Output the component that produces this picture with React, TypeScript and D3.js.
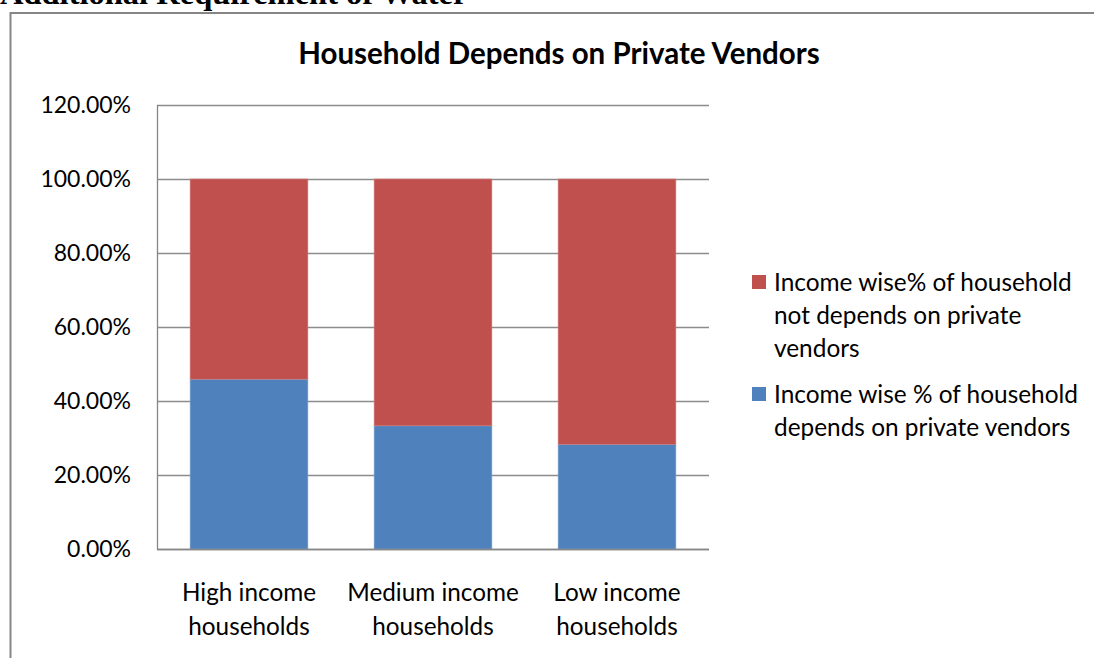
import React from "react";
import * as d3 from "d3";

const categories: string[][] = [
  ["High income", "households"],
  ["Medium income", "households"],
  ["Low income", "households"],
];
const dependsValues = [0.459, 0.333, 0.283];
const notDependsValues = [0.541, 0.667, 0.717];
const yTicks = [0, 0.2, 0.4, 0.6, 0.8, 1.0, 1.2];
const seriesNames = [
  ["Income wise% of household", "not depends on private", "vendors"],
  ["Income wise % of household", "depends on private vendors"],
];
const colors = ["#C0504D", "#4F81BD"];

const FONT = "Lato, 'Open Sans', sans-serif";

export default function App() {
  const W = 1094, H = 658;
  const left = 157, right = 709, top = 105, bottom = 549;
  const x = d3.scaleBand<number>().domain([0, 1, 2]).range([left, right]).paddingInner(0.36).paddingOuter(0.18);
  const y = d3.scaleLinear().domain([0, 1.2]).range([bottom, top]);
  const fmt = (v: number) => (v * 100).toFixed(2) + "%";
  return (
    <svg width={W} height={H} style={{ position: "absolute", left: 0, top: 0, background: "#fff" }}>
      <text x={0} y={4} fontFamily="'Liberation Serif', 'Times New Roman', serif" fontWeight="bold" fontSize={32.5} fill="#000">
        Additional Requirement of Water
      </text>
      <rect x={10.5} y={13} width={1200} height={800} fill="#fff" stroke="#868686" strokeWidth={2} />
      <text x={559} y={64} textAnchor="middle" fontFamily={FONT} fontWeight="bold" fontSize={29.5} fill="#000">
        Household Depends on Private Vendors
      </text>
      {yTicks.map((t) => (
        <g key={t}>
          <line x1={left} x2={right} y1={Math.round(y(t)) + 0.5} y2={Math.round(y(t)) + 0.5} stroke="#8c8c8c" strokeWidth={1.3} />
          <text x={131} y={y(t)} dy="0.35em" textAnchor="end" fontFamily={FONT} fontSize={23} fill="#000">
            {fmt(t)}
          </text>
        </g>
      ))}
      {categories.map((c, i) => (
        <g key={i}>
          <rect x={x(i)} y={y(dependsValues[i])} width={x.bandwidth()} height={y(0) - y(dependsValues[i])} fill={colors[1]} stroke="#7fa3d2" strokeWidth={0.6} />
          <rect x={x(i)} y={y(dependsValues[i] + notDependsValues[i])} width={x.bandwidth()} height={y(dependsValues[i]) - y(dependsValues[i] + notDependsValues[i])} fill={colors[0]} stroke="#d27d7a" strokeWidth={0.6} />
          {c.map((line, j) => (
            <text key={j} x={x(i)! + x.bandwidth() / 2} y={601 + j * 33.5} textAnchor="middle" fontFamily={FONT} fontSize={24.3} fill="#000">
              {line}
            </text>
          ))}
        </g>
      ))}
      <line x1={left + 0.5} x2={left + 0.5} y1={top} y2={bottom} stroke="#868686" strokeWidth={1.3} />
      <line x1={left} x2={right} y1={bottom + 0.5} y2={bottom + 0.5} stroke="#868686" strokeWidth={1.3} />
      {seriesNames.map((lines, k) => {
        const y0 = k === 0 ? 291 : 403;
        return (
          <g key={k}>
            <rect x={752} y={y0 - 16} width={14} height={14} fill={colors[k]} />
            {lines.map((ln, j) => (
              <text key={j} x={774} y={y0 + j * 33} fontFamily={FONT} fontSize={24.4} fill="#000">
                {ln}
              </text>
            ))}
          </g>
        );
      })}
    </svg>
  );
}
